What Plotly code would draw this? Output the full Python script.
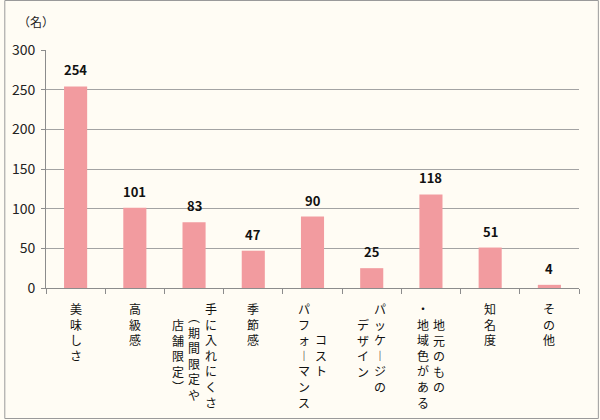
import plotly.graph_objects as go

# ---- data ----
categories = [
    "美味しさ",
    "高級感",
    "手に入れにくさ（期間限定や店舗限定）",
    "季節感",
    "コストパフォーマンス",
    "パッケージのデザイン",
    "地元のもの・地域色がある",
    "知名度",
    "その他",
]
# label columns as shown (vertical writing, first column on the right)
label_columns = [
    ["美味しさ"],
    ["高級感"],
    ["手に入れにくさ", "（期間限定や", "店舗限定）"],
    ["季節感"],
    ["コスト", "パフォーマンス"],
    ["パッケージの", "デザイン"],
    ["地元のもの", "・地域色がある"],
    ["知名度"],
    ["その他"],
]
values = [254, 101, 83, 47, 90, 25, 118, 51, 4]
y_ticks = [0, 50, 100, 150, 200, 250, 300]
unit_label = "（名）"

FONT = "Noto Sans CJK JP"
BAR = "#F29B9F"
BG = "#FFFCF4"
GRID = "#a3a3a3"

W, H = 600, 420
ML, MR, MT, MB = 42, 21, 50, 132
PW, PH = W - ML - MR, H - MT - MB

xs = list(range(len(categories)))

fig = go.Figure()
fig.add_trace(go.Bar(
    x=xs, y=values,
    marker=dict(color=BAR, line=dict(width=0)),
    hovertext=categories,
))

# value labels above bars
annotations = []
for i, v in enumerate(values):
    annotations.append(dict(
        x=i, xref="x", y=v, yref="y", text=str(v), showarrow=False,
        xanchor="center", yanchor="bottom", yshift=5,
        font=dict(family=FONT, size=13, color="#111111", weight="bold"),
    ))

# vertical writing: one annotation per column, one character per line
VMAP = {"ー": "︱", "（": "︵", "）": "︶"}
def vert(s):
    return "<br>".join(VMAP.get(c, c) for c in s)

FS = 12
LINE_H = FS * 1.3
COL_W = 16.5
TOP = 11
for i, cols in enumerate(label_columns):
    n = len(cols)
    maxlen = max(len(c) for c in cols)
    for j, col in enumerate(cols):
        xshift = ((n - 1) / 2 - j) * COL_W
        off = (maxlen - len(col)) * LINE_H / 2
        annotations.append(dict(
            x=i, xref="x", y=0, yref="paper",
            text=vert(col), showarrow=False,
            xanchor="center", yanchor="top",
            xshift=xshift, yshift=-(TOP + off),
            align="center", borderpad=0,
            font=dict(family=FONT, size=FS, color="#111111"),
        ))

annotations.append(dict(
    x=0, xref="paper", y=1, yref="paper",
    text=unit_label, showarrow=False,
    xanchor="left", yanchor="middle",
    xshift=-30, yshift=MT - 21,
    font=dict(family=FONT, size=12, color="#222222"),
))

fig.update_layout(
    width=W, height=H,
    margin=dict(l=ML, r=MR, t=MT, b=MB),
    paper_bgcolor=BG, plot_bgcolor=BG,
    showlegend=False,
    bargap=0.61,
    annotations=annotations,
    shapes=[dict(
        type="rect", xref="paper", yref="paper",
        x0=-(ML - 0.5) / PW, x1=1 + (MR - 1.5) / PW,
        y0=-(MB - 1.5) / PH, y1=1 + (MT - 0.5) / PH,
        line=dict(color="#9a9a9a", width=1),
        fillcolor="rgba(0,0,0,0)", layer="below",
    )],
)
fig.update_xaxes(
    range=[-0.5, len(categories) - 0.5],
    tickvals=[k - 0.5 for k in range(len(categories) + 1)],
    ticktext=["" for _ in range(len(categories) + 1)],
    ticks="outside", ticklen=5, tickcolor="#8c8c8c", tickwidth=1,
    showgrid=False, zeroline=False,
    showline=True, linecolor="#8c8c8c", linewidth=1,
    fixedrange=True,
)
fig.update_yaxes(
    range=[0, 300], tickvals=y_ticks,
    ticks="outside", ticklen=4, tickcolor="#8c8c8c",
    showgrid=True, gridcolor=GRID, gridwidth=1,
    zeroline=False,
    showline=True, linecolor="#8c8c8c", linewidth=1,
    tickfont=dict(family=FONT, size=14, color="#222222"),
    ticklabelstandoff=3,
)

fig.write_html("out.html")
